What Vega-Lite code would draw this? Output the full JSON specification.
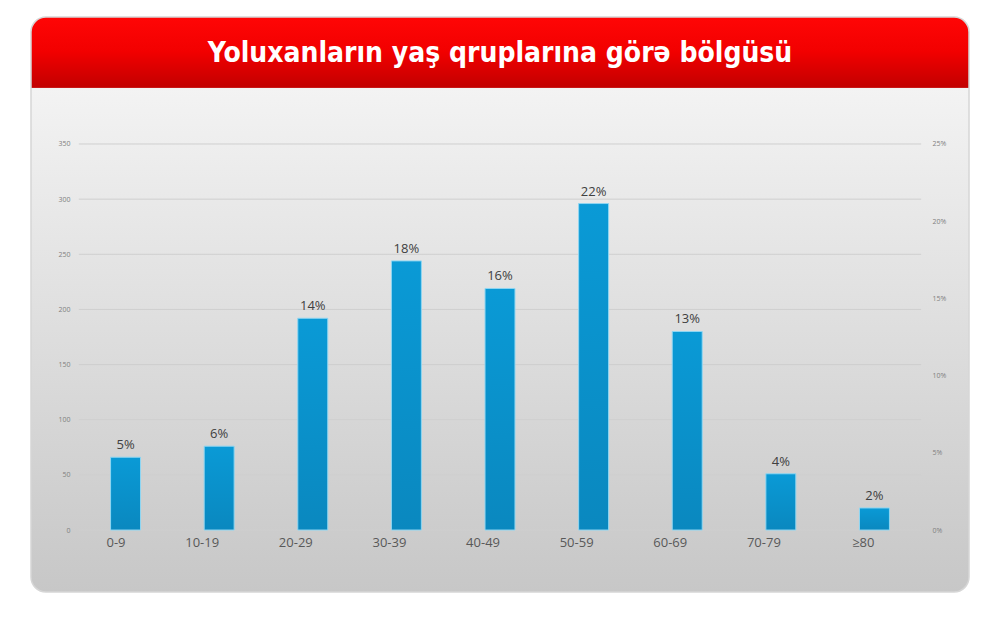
{
  "$schema": "https://vega.github.io/schema/vega-lite/v6.json",
  "background": "#ffffff",
  "padding": {"left": 31, "top": 17, "right": 22, "bottom": 38},
  "width": 938,
  "height": 575,
  "title": {
    "text": "Yoluxanların yaş qruplarına görə bölgüsü",
    "color": "#ffffff",
    "font": "'DejaVu Sans Condensed', 'Liberation Sans', sans-serif",
    "fontSize": 28,
    "fontWeight": "bold",
    "anchor": "middle",
    "frame": "group",
    "baseline": "middle",
    "offset": 0,
    "dy": 65
  },
  "view": {
    "cornerRadius": 15,
    "stroke": "#d6d6d6",
    "strokeWidth": 1.5,
    "fill": {
      "gradient": "linear",
      "x1": 0, "y1": 0, "x2": 0, "y2": 1,
      "stops": [
        {"offset": 0, "color": "#ff0606"},
        {"offset": 0.06, "color": "#f20000"},
        {"offset": 0.1225, "color": "#c20000"},
        {"offset": 0.1236, "color": "#f3f3f3"},
        {"offset": 1, "color": "#c7c7c7"}
      ]
    }
  },
  "datasets": {
    "ages": [
      {"group": "0-9", "count": 66, "label": "5%", "pct": 0.049},
      {"group": "10-19", "count": 76, "label": "6%", "pct": 0.057},
      {"group": "20-29", "count": 192, "label": "14%", "pct": 0.143},
      {"group": "30-39", "count": 244, "label": "18%", "pct": 0.182},
      {"group": "40-49", "count": 219, "label": "16%", "pct": 0.163},
      {"group": "50-59", "count": 296, "label": "22%", "pct": 0.220},
      {"group": "60-69", "count": 180, "label": "13%", "pct": 0.134},
      {"group": "70-79", "count": 51, "label": "4%", "pct": 0.038},
      {"group": "≥80", "count": 20, "label": "2%", "pct": 0.015}
    ],
    "grid": [
      {"v": 0}, {"v": 50}, {"v": 100}, {"v": 150}, {"v": 200}, {"v": 250}, {"v": 300}, {"v": 350}
    ]
  },
  "layer": [
    {
      "layer": [
        {
          "data": {"name": "grid"},
          "mark": {"type": "rule", "color": "#cfcfcf", "strokeWidth": 1},
          "encoding": {
            "y": {"field": "v", "type": "quantitative"},
            "x": {"datum": "0-9", "bandPosition": -1.06},
            "x2": {"datum": "≥80", "bandPosition": 2.06}
          }
        },
        {
          "data": {"name": "ages"},
          "mark": {
            "type": "bar",
            "stroke": "#8fd6f2",
            "strokeWidth": 1,
            "fill": {
              "gradient": "linear",
              "x1": 0, "y1": 0, "x2": 0, "y2": 1,
              "stops": [
                {"offset": 0, "color": "#0a9ad6"},
                {"offset": 1, "color": "#0a88bf"}
              ]
            }
          },
          "encoding": {
            "x": {
              "field": "group",
              "type": "nominal",
              "sort": null,
              "scale": {
                "domain": ["0-9", "10-19", "20-29", "30-39", "40-49", "50-59", "60-69", "70-79", "≥80"],
                "paddingInner": 0.68,
                "paddingOuter": 0.85
              },
              "axis": {
                "title": null,
                "labelAngle": 0,
                "domain": false,
                "ticks": false,
                "offset": -62,
                "labelPadding": 12,
                "labelFontSize": 13,
                "labelFont": "Open Sans",
                "labelColor": "#595959"
              }
            },
            "y": {
              "field": "count",
              "type": "quantitative",
              "scale": {"domain": [-56.2, 465.15], "nice": false, "zero": false},
              "axis": {
                "title": null,
                "values": [0, 50, 100, 150, 200, 250, 300, 350],
                "grid": false,
                "domain": false,
                "ticks": false,
                "offset": -47,
                "labelPadding": 8,
                "labelFontSize": 7,
                "labelFont": "Open Sans",
                "labelColor": "#808080"
              }
            }
          }
        },
        {
          "data": {"name": "ages"},
          "mark": {
            "type": "text",
            "baseline": "bottom",
            "dy": -5,
            "fontSize": 13,
            "font": "Open Sans",
            "color": "#404040"
          },
          "encoding": {
            "x": {"field": "group", "type": "nominal", "sort": null},
            "y": {"field": "count", "type": "quantitative"},
            "text": {"field": "label"}
          }
        }
      ]
    },
    {
      "data": {"name": "ages"},
      "mark": {"type": "point", "opacity": 0},
      "encoding": {
        "x": {"field": "group", "type": "nominal", "sort": null},
        "y": {
          "field": "pct",
          "type": "quantitative",
          "scale": {"domain": [-0.040143, 0.33225], "nice": false, "zero": false},
          "axis": {
            "orient": "right",
            "title": null,
            "values": [0, 0.05, 0.1, 0.15, 0.2, 0.25],
            "format": ".0%",
            "grid": false,
            "domain": false,
            "ticks": false,
            "offset": -46,
            "labelPadding": 9,
            "labelFontSize": 7,
            "labelFont": "Open Sans",
            "labelColor": "#808080"
          }
        }
      }
    }
  ],
  "resolve": {"scale": {"y": "independent"}}
}
